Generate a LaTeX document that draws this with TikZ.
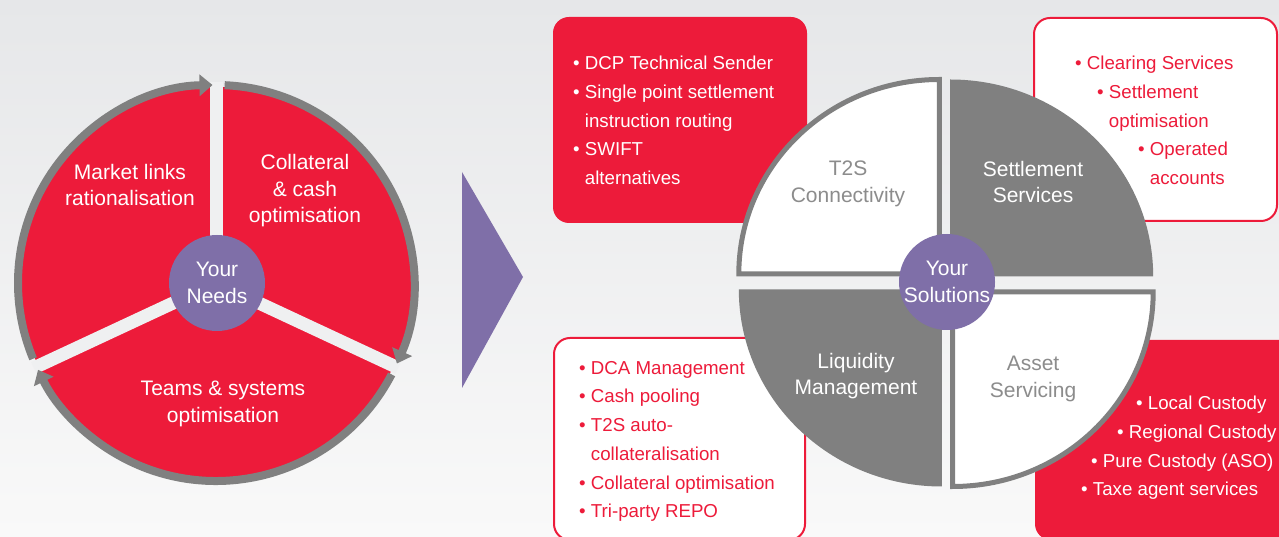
\documentclass[tikz,border=0pt]{standalone}
\usepackage{fontspec}
\setmainfont{Liberation Sans}
\usetikzlibrary{arrows.meta}
\definecolor{needred}{HTML}{ED1B3A}
\definecolor{ringgray}{HTML}{808080}
\definecolor{hubpurple}{HTML}{7F6FA8}
\definecolor{softgray}{HTML}{8C8C8C}
\definecolor{bgtop}{HTML}{E6E7E9}
\definecolor{bgbottom}{HTML}{F9F9F9}
\begin{document}
\begin{tikzpicture}[x=1pt, y=1pt,
  seglabel/.style={align=center, inner sep=0, font=\fontsize{21}{26.5}\selectfont},
  bullets/.style={align=left, anchor=north west, inner sep=0, font=\fontsize{18.7}{28.7}\selectfont},
  hub/.style={circle, fill=hubpurple, minimum size=96pt, inner sep=0, text=white, seglabel},
  ring/.style={draw=ringgray, line width=8pt, -{Triangle[length=13pt, width=21pt]}},
  divider/.style={draw=bgtop!50!bgbottom, line width=13pt},
  darkquad/.style={fill=ringgray},
  lightquad/.style={draw=ringgray, fill=white, line width=5pt, line join=miter}]
\useasboundingbox (0,0) rectangle (1279,537);
\shade[top color=bgtop, bottom color=bgbottom] (0,0) rectangle (1279,537);
\fill[needred] (216,254) circle (196);
\foreach \a in {90,205,335} \draw[divider] (216,254) -- ++(\a:201);
\draw[ring] (216,254) ++(202.5:198) arc (202.5:91:198);
\draw[ring] (216,254) ++(87.5:198) arc (87.5:-24:198);
\draw[ring] (216,254) ++(-27.5:198) arc (-27.5:-154:198);
\node[hub] (needs) at (217,254) {Your\\Needs};
\node[seglabel, text=white] (links) at (130,352) {Market links\\rationalisation};
\node[seglabel, text=white] (collateral) at (305,346) {Collateral\\\& cash\\optimisation};
\node[seglabel, text=white] (teams) at (223,133) {Teams \& systems\\optimisation};
\fill[hubpurple] (462,365) -- (523,260) -- (462,149) -- cycle;
\fill[needred, rounded corners=16] (553,314) rectangle (807,520);
\draw[needred, line width=2pt, fill=white, rounded corners=16] (1034,316) rectangle (1277,519);
\draw[needred, line width=2pt, fill=white, rounded corners=16] (554,-3) rectangle (805,199);
\fill[needred, rounded corners=16] (1035,-3) rectangle (1295,197);
\node[bullets, text=white] (connect) at (573,481) {%
  • DCP Technical Sender\\• Single point settlement\\\hphantom{• }instruction routing\\%
  • SWIFT\\\hphantom{• }alternatives};
\node[bullets, text=needred] (settle) at (1075,481) {%
  • Clearing Services\\\hspace*{22pt}• Settlement\\\hspace*{22pt}\hphantom{• }optimisation\\%
  \hspace*{63pt}• Operated\\\hspace*{63pt}\hphantom{• }accounts};
\node[bullets, text=needred] (liquid) at (579,176) {%
  • DCA Management\\• Cash pooling\\• T2S auto-\\\hphantom{• }collateralisation\\%
  • Collateral optimisation\\• Tri-party REPO};
\node[bullets, text=white] (asset) at (1081,141) {%
  \hspace*{55pt}• Local Custody\\\hspace*{36pt}• Regional Custody\\%
  \hspace*{10pt}• Pure Custody (ASO)\\• Taxe agent services};
\fill[darkquad] (950.2,260.5) -- ++(0:203) arc (0:90:203 and 197) -- cycle;
\fill[darkquad] (941.8,247.5) -- ++(180:203) arc (180:270:203 and 197) -- cycle;
\draw[lightquad] (939.3,263) -- ++(180:200.5) arc (180:90:200.5 and 194.5) -- cycle;
\draw[lightquad] (952.7,245) -- ++(0:200.5) arc (0:-90:200.5 and 194.5) -- cycle;
\node[hub] (solutions) at (947,255) {Your\\Solutions};
\node[seglabel, text=softgray] (t2s) at (848,353) {T2S\\Connectivity};
\node[seglabel, text=white] (services) at (1033,355) {Settlement\\Services};
\node[seglabel, text=white] (liquidity) at (856,161) {Liquidity\\Management};
\node[seglabel, text=softgray] (servicing) at (1033,158) {Asset\\Servicing};
\end{tikzpicture}
\end{document}
